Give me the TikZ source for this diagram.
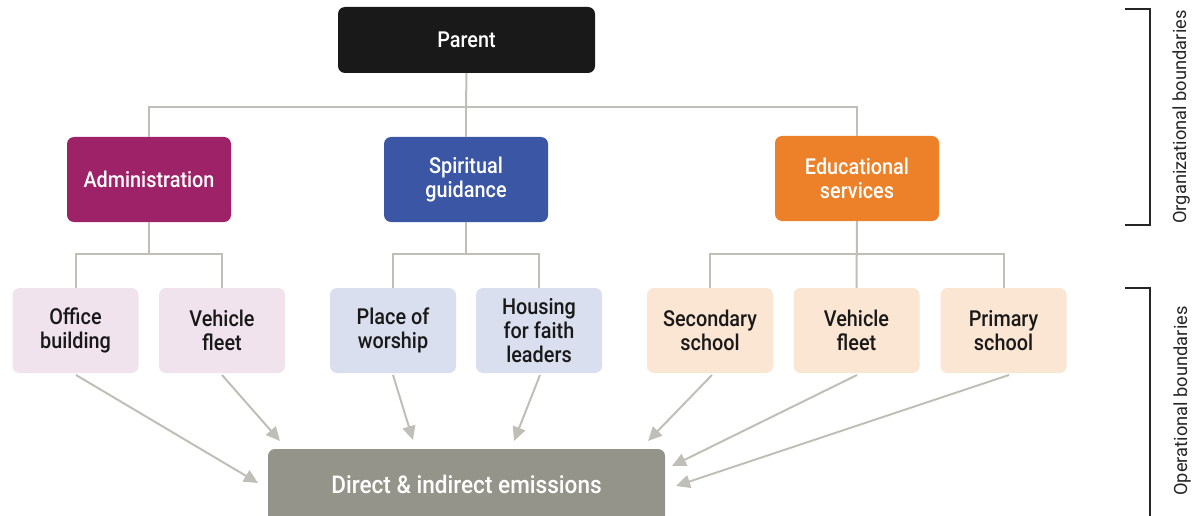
\documentclass[tikz,border=0pt]{standalone}
\usepackage{fontspec}
\setmainfont{Roboto}[Extension=.ttf,UprightFont=*-Regular,BoldFont=*-Medium]
\newfontfamily\condfont{Roboto}[Extension=.ttf,UprightFont=*-Medium,FakeStretch=0.9]
\usetikzlibrary{arrows.meta}
\begin{document}
\begin{tikzpicture}[x=1pt,y=-1pt,
  box/.style={rounded corners=7pt,inner sep=0pt,align=center,font=\condfont\fontsize{22}{24}\selectfont},
  topbox/.style={box,text=white,minimum width=164pt,minimum height=85pt},
  childbox/.style={box,text=black!90,minimum width=126pt,minimum height=85pt},
  link/.style={draw=linegray,line width=2pt},
  feed/.style={link,-{Triangle[length=14pt,width=13pt]}},
  bracket/.style={draw=black!85,line width=2.2pt},
  side/.style={rotate=90,font=\fontsize{18.3}{20}\selectfont,text=black!85}
]
\definecolor{linegray}{HTML}{BFBFB8}
\definecolor{adm}{HTML}{9E2268}
\definecolor{spi}{HTML}{3A56A5}
\definecolor{edu}{HTML}{EC8129}
\definecolor{admlight}{HTML}{F0E3EE}
\definecolor{spilight}{HTML}{D9DFEE}
\definecolor{edulight}{HTML}{FBE5D3}
\definecolor{emis}{HTML}{94948A}
\useasboundingbox (0,0) rectangle (1203,516);

% top level
\node[box,fill=black!90,text=white,minimum width=257pt,minimum height=66pt] (parent) at (466.5,40) {Parent};

% divisions
\node[topbox,fill=adm] (admin) at (149,179.5) {Administration};
\node[topbox,fill=spi] (spirit) at (466,179.5) {Spiritual\\guidance};
\node[topbox,fill=edu] (educ) at (857,178.5) {Educational\\services};

% facilities
\node[childbox,fill=admlight] (office) at (75.5,330.5) {Office\\building};
\node[childbox,fill=admlight] (fleetA) at (222,330.5) {Vehicle\\fleet};
\node[childbox,fill=spilight] (worship) at (393,330.5) {Place of\\worship};
\node[childbox,fill=spilight] (housing) at (539,330.5) {Housing\\for faith\\leaders};
\node[childbox,fill=edulight] (secondary) at (710,330.5) {Secondary\\school};
\node[childbox,fill=edulight] (fleetB) at (856.5,330.5) {Vehicle\\fleet};
\node[childbox,fill=edulight] (primary) at (1003.5,330.5) {Primary\\school};

% emissions
\node[box,fill=emis,minimum width=397pt,minimum height=78pt] (emission) at (466.5,488) {};
\node[font=\condfont\fontsize{24.5}{26}\selectfont\addfontfeature{FakeStretch=0.92},text=white] (emtext) at (466.5,484) {Direct \& indirect emissions};

% tree connectors
\draw[link] (parent.south) -- (466,107) coordinate (hub);
\draw[link] (admin.north) |- (hub) -| (educ.north);
\draw[link] (hub) -- (spirit.north);

\draw[link] (admin.south) -- (149,254) coordinate (ha);
\draw[link] (office.north) |- (ha) -| (fleetA.north);
\draw[link] (spirit.south) -- (466,254) coordinate (hs);
\draw[link] (worship.north) |- (hs) -| (housing.north);
\draw[link] (educ.south) -- (fleetB.north);
\draw[link] (secondary.north) |- (856.5,254) -| (primary.north);

% emission arrows
\coordinate (e1) at (258,483);
\coordinate (e2) at (280,441);
\coordinate (e3) at (413,440);
\coordinate (e4) at (514,441);
\coordinate (e5) at (648,441);
\coordinate (e6) at (672,466);
\coordinate (e7) at (676,486);
\draw[feed] (76,375) -- (e1);
\draw[feed] (222,375) -- (e2);
\draw[feed] (393,375) -- (e3);
\draw[feed] (540,375) -- (e4);
\draw[feed] (712,375) -- (e5);
\draw[feed] (857,375) -- (e6);
\draw[feed] (1009,375) -- (e7);

% boundary brackets
\draw[bracket] (1125,9) -- (1150,9) -- (1150,225) -- (1125,225);
\draw[bracket] (1125,288) -- (1150,288) -- (1150,520);
\node[side] (orglab) at (1182,117) {Organizational boundaries};
\node[side] (oplab) at (1182,401) {Operational boundaries};
\end{tikzpicture}
\end{document}
